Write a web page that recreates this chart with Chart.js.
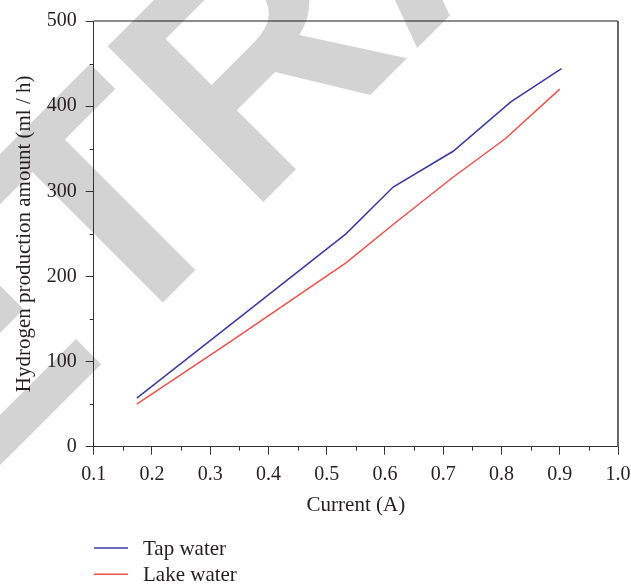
<!DOCTYPE html>
<html>
<head>
<meta charset="utf-8">
<script src="https://cdn.jsdelivr.net/npm/chart.js@4/dist/chart.umd.min.js"></script>
<style>
  html, body { margin: 0; padding: 0; background: #fff; }
  #wrap { width: 631px; height: 584px; }
</style>
</head>
<body>
<div id="wrap"><canvas id="h2Chart" width="631" height="584"></canvas></div>
<script>
// values
const tapCurrent = [0.174, 0.336, 0.533, 0.614, 0.717, 0.816, 0.903];
const tapWater = [57, 144, 250, 305, 347, 405, 444];
const lakeCurrent = [0.174, 0.336, 0.533, 0.614, 0.714, 0.807, 0.900];
const lakeWater = [50, 124, 216, 261, 315, 362, 420];

const seriesNames = ['Tap water', 'Lake water'];
const xTicks = [0.1, 0.2, 0.3, 0.4, 0.5, 0.6, 0.7, 0.8, 0.9, 1.0];
const yTicks = [0, 100, 200, 300, 400, 500];
const watermarkText = 'RETRACTED';

const serif = '"Liberation Serif", "Times New Roman", serif';
const inkColor = '#231f20';

function toPoints(xs, ys) {
    return xs.map((x, i) => ({ x: x, y: ys[i] }));
}

// big grey stamp behind everything
const watermark = {
    id: 'watermark',
    beforeDraw(chart) {
        const ctx = chart.ctx;
        ctx.save();
        ctx.fillStyle = '#d3d3d3';
        ctx.font = 'bold 320px "Liberation Sans", Arial, sans-serif';
        ctx.textBaseline = 'alphabetic';
        ctx.rotate(-Math.PI / 4);
        ctx.fillText(watermarkText, -618, 329);
        ctx.restore();
    }
};

// minor ticks, top/right frame and the stacked legend
const frameAndLegend = {
    id: 'frameAndLegend',
    afterDraw(chart) {
        const ctx = chart.ctx;
        const area = chart.chartArea;
        const xs = chart.scales.x;
        const ys = chart.scales.y;
        ctx.save();
        ctx.strokeStyle = '#333';
        ctx.lineWidth = 1;
        ctx.beginPath();
        for (let i = 0; i < xTicks.length - 1; i++) {
            const px = Math.round(xs.getPixelForValue((xTicks[i] + xTicks[i + 1]) / 2)) + 0.5;
            ctx.moveTo(px, area.bottom);
            ctx.lineTo(px, area.bottom + 4);
        }
        for (let i = 0; i < yTicks.length - 1; i++) {
            const py = Math.round(ys.getPixelForValue((yTicks[i] + yTicks[i + 1]) / 2)) + 0.5;
            ctx.moveTo(area.left, py);
            ctx.lineTo(area.left - 4, py);
        }
        ctx.stroke();

        ctx.strokeStyle = '#1a1a1a';
        ctx.lineWidth = 1.2;
        ctx.beginPath();
        ctx.moveTo(area.left, area.top);
        ctx.lineTo(area.right, area.top);
        ctx.stroke();
        ctx.strokeStyle = '#666';
        ctx.lineWidth = 2;
        ctx.beginPath();
        ctx.moveTo(area.right, area.top);
        ctx.lineTo(area.right, area.bottom);
        ctx.stroke();

        ctx.font = '21px ' + serif;
        ctx.textBaseline = 'middle';
        ctx.textAlign = 'left';
        chart.data.datasets.forEach((ds, i) => {
            const y = 548 + i * 26.3;
            ctx.strokeStyle = ds.borderColor;
            ctx.lineWidth = 1.5;
            ctx.beginPath();
            ctx.moveTo(94, y);
            ctx.lineTo(128, y);
            ctx.stroke();
            ctx.fillStyle = inkColor;
            ctx.fillText(ds.label, 143, y + 1);
        });
        ctx.restore();
    }
};

const ctx = document.getElementById('h2Chart').getContext('2d');
new Chart(ctx, {
    type: 'scatter',
    data: {
        datasets: [{
            label: seriesNames[0],
            data: toPoints(tapCurrent, tapWater),
            showLine: true,
            borderColor: '#3a3a9e',
            borderWidth: 1.5,
            pointRadius: 0,
            tension: 0
        }, {
            label: seriesNames[1],
            data: toPoints(lakeCurrent, lakeWater),
            showLine: true,
            borderColor: '#f0504a',
            borderWidth: 1.5,
            pointRadius: 0,
            tension: 0
        }]
    },
    options: {
        responsive: false,
        animation: false,
        layout: { padding: { top: 19, right: 13, left: 0, bottom: 0 } },
        plugins: {
            legend: { display: false },
            tooltip: { enabled: false }
        },
        scales: {
            x: {
                type: 'linear',
                min: 0.1,
                max: 1.0,
                afterBuildTicks: (scale) => { scale.ticks = xTicks.map(v => ({ value: v })); },
                afterFit: (scale) => {
                    scale.height = 137.3;
                    scale.paddingRight = 0;
                    scale.paddingLeft = 0;
                },
                grid: { drawOnChartArea: false, tickLength: 8, tickColor: '#333' },
                border: { color: '#333', width: 1 },
                ticks: {
                    color: inkColor,
                    padding: 8,
                    maxRotation: 0,
                    font: { family: serif, size: 20 },
                    callback: (v) => Number(v).toFixed(1)
                },
                title: {
                    display: true,
                    text: 'Current (A)',
                    color: inkColor,
                    font: { family: serif, size: 21 },
                    padding: { top: 0, bottom: 66 }
                }
            },
            y: {
                min: 0,
                max: 500,
                afterBuildTicks: (scale) => { scale.ticks = yTicks.map(v => ({ value: v })); },
                afterFit: (scale) => { scale.width = 93.7; },
                grid: { drawOnChartArea: false, tickLength: 8, tickColor: '#333' },
                border: { color: '#333', width: 1 },
                ticks: {
                    color: inkColor,
                    padding: 9,
                    font: { family: serif, size: 20 }
                },
                title: {
                    display: true,
                    text: 'Hydrogen production amount (ml / h)',
                    color: inkColor,
                    font: { family: serif, size: 21 },
                    padding: { top: 12, bottom: 0 }
                }
            }
        }
    },
    plugins: [watermark, frameAndLegend]
});
</script>
</body>
</html>
